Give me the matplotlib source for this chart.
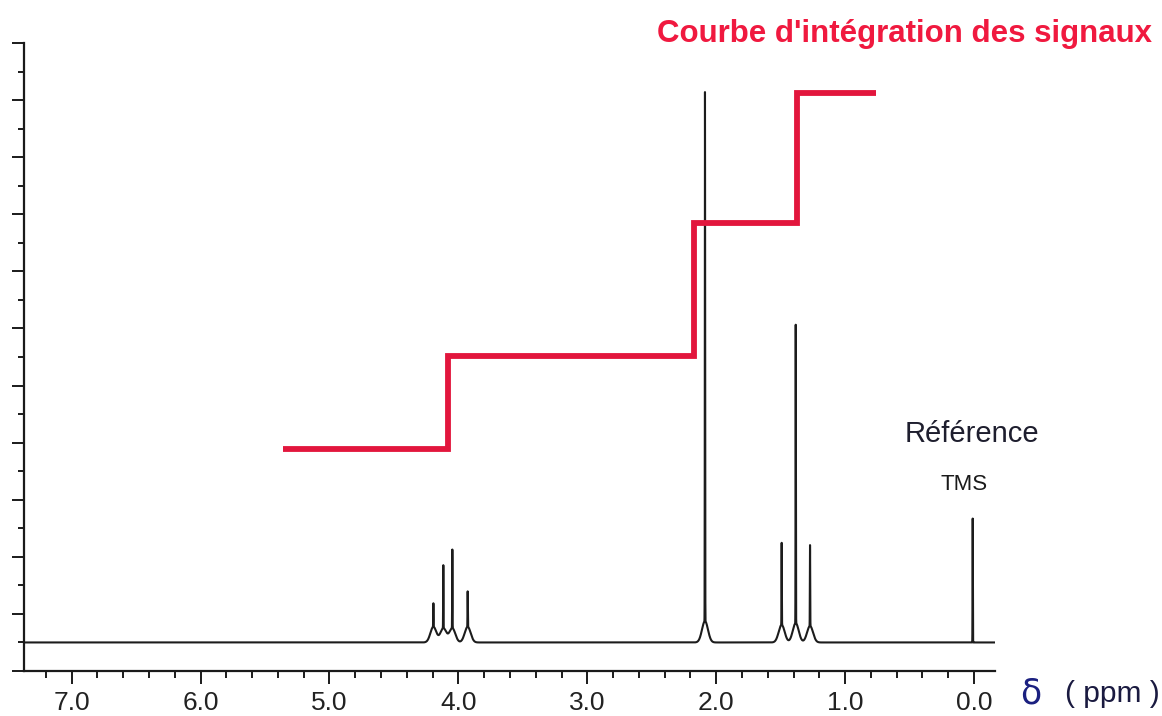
import numpy as np
import matplotlib
matplotlib.use("Agg")
import matplotlib.pyplot as plt
from matplotlib.ticker import MultipleLocator

# peaks of the spectrum (ppm, spike height above the foot, height of the broad foot)
peak_ppm = [4.194, 4.117, 4.047, 3.928, 2.087, 1.492, 1.383, 1.272, 0.010]
peak_height = [0.82, 2.20, 2.75, 1.24, 18.53, 2.87, 10.45, 2.83, 4.34]
foot_height = [0.55, 0.50, 0.50, 0.55, 0.75, 0.62, 0.68, 0.58, 0.0]

# integration curve: step edges (ppm) and levels
integ_ppm = [5.36, 4.08, 2.17, 1.37, 0.76]
integ_level = [6.76, 10.02, 14.71, 19.26]

tick_labels = ["7.0", "6.0", "5.0", "4.0", "3.0", "2.0", "1.0", "0.0"]

W, H = 1162, 716
fig = plt.figure(figsize=(W / 100, H / 100), dpi=100)
ax = fig.add_axes([24 / W, (H - 671) / H, (995 - 24) / W, (671 - 43) / H])

# spectrum trace built from the peak list
x = np.linspace(7.37, -0.163, 12000)
x = np.sort(np.concatenate([x, peak_ppm]))[::-1]
y = np.zeros_like(x)
for p, h, f in zip(peak_ppm, peak_height, foot_height):
    y += h * np.exp(-0.5 * ((x - p) / 0.0012) ** 2)
    y += f * np.exp(-0.5 * ((x - p) / 0.023) ** 2)
ax.plot(x, y, color="#1c1c1c", lw=1.5)

# integration curve
ax.step(integ_ppm, integ_level + [integ_level[-1]], where="post",
        color="#e2163d", lw=4.2, solid_joinstyle="miter", solid_capstyle="butt")

ax.set_xlim(7.37, -0.163)
ax.set_ylim(-1, 21)
for s in ["top", "right"]:
    ax.spines[s].set_visible(False)
for s in ["left", "bottom"]:
    ax.spines[s].set_linewidth(1.6)
    ax.spines[s].set_color("#1a1a1a")

ax.xaxis.set_minor_locator(MultipleLocator(0.2))
ax.set_xticks(np.arange(7, -1, -1))
ax.set_xticklabels(tick_labels, family="Liberation Sans", fontsize=19, color="#222222")
ax.tick_params(axis="x", which="major", direction="out", length=9.4, width=1.4, pad=5, color="#1a1a1a")
ax.tick_params(axis="x", which="minor", direction="out", length=5, width=1.4, color="#1a1a1a")

ax.set_yticks(np.arange(-1, 22, 2))
ax.set_yticks(np.arange(0, 21, 2), minor=True)
ax.set_yticklabels([])
ax.tick_params(axis="y", which="major", direction="out", length=8.6, width=1.4, color="#1a1a1a")
ax.tick_params(axis="y", which="minor", direction="out", length=4.3, width=1.4, color="#1a1a1a")


def px(xp, yp):
    return xp / W, 1 - yp / H


fig.text(*px(657, 42), "Courbe d'intégration des signaux", fontsize=22.5, fontweight="bold",
         family="Liberation Sans", color="#f0193f", ha="left", va="baseline")
fig.text(*px(905, 442), "Référence", fontsize=21, family="Liberation Sans",
         color="#1e1e2e", ha="left", va="baseline")
fig.text(*px(941, 490), "TMS", fontsize=16, family="Liberation Sans",
         color="#1a1a1a", ha="left", va="baseline")
fig.text(*px(1020, 703), "δ", fontsize=25, family="DejaVu Sans",
         color="#1b2080", ha="left", va="baseline")
fig.text(*px(1160, 702), "( ppm )", fontsize=21.5, family="Liberation Sans",
         color="#1a1a40", ha="right", va="baseline")

fig.savefig("out.png", dpi=100)
